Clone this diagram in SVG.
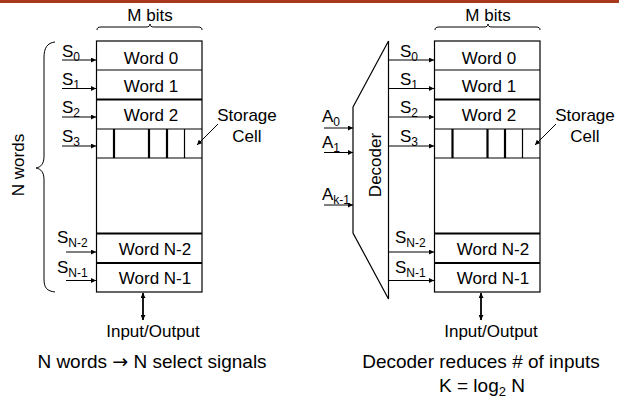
<svg xmlns="http://www.w3.org/2000/svg" width="619" height="398" viewBox="0 0 619 398">
<defs>
<marker id="ah" viewBox="0 0 10 10" refX="10" refY="5" markerWidth="6" markerHeight="5" markerUnits="userSpaceOnUse" orient="auto-start-reverse">
<path d="M0,0 L10,5 L0,10 z" fill="#000"/>
</marker>
<style>
text{font-family:"Liberation Sans",Arial,sans-serif;fill:#000}
.t{font-size:17px}
.w{font-size:17px;text-anchor:middle}
.cap{font-size:19px;text-anchor:middle}
.sym{font-family:"DejaVu Sans",sans-serif}
.box{fill:#fff;stroke:#000;stroke-width:1.2}
.thin{stroke:#000;stroke-width:1.2;fill:none}
.thick{stroke:#000;stroke-width:2.2;fill:none}
.arr{stroke:#000;stroke-width:1;fill:none;marker-end:url(#ah)}
.dbl{stroke:#000;stroke-width:1.8;fill:none;marker-end:url(#ah);marker-start:url(#ah)}
.brace{stroke:#000;stroke-width:1;fill:none}
</style>
</defs>
<rect x="0" y="0" width="619" height="3" fill="#a8391c"/>

<!-- LEFT -->
<g id="left-memory">
<rect class="box" x="96.5" y="41" width="105.5" height="251"/>
<line class="thin" x1="96.5" y1="70" x2="202" y2="70"/>
<line class="thick" x1="96.5" y1="99.5" x2="202" y2="99.5"/>
<line class="thin" x1="96.5" y1="129" x2="202" y2="129"/>
<line class="thin" x1="96.5" y1="158" x2="202" y2="158"/>
<line class="thick" x1="96.5" y1="233.5" x2="202" y2="233.5"/>
<line class="thick" x1="96.5" y1="263" x2="202" y2="263"/>
<line class="thick" x1="114" y1="129" x2="114" y2="158"/>
<line class="thick" x1="149" y1="129" x2="149" y2="158"/>
<line class="thick" x1="167" y1="129" x2="167" y2="158"/>
<line class="thin" x1="184.5" y1="129" x2="184.5" y2="158"/>
<text class="w" x="151" y="64">Word 0</text>
<text class="w" x="151" y="92">Word 1</text>
<text class="w" x="151" y="121">Word 2</text>
<text class="w" x="155" y="255">Word N-2</text>
<text class="w" x="155" y="284">Word N-1</text>
</g>
<g id="left-mbits">
<path class="brace" d="M97,30 C97,28 98,27 101,27 L146,27 C149,27 150,26 150,24 C150,26 151,27 154,27 L198,27 C201,27 202,28 202,30"/>
<text class="w" x="150" y="21">M bits</text>
</g>
<g id="left-nwords">
<path class="brace" d="M55,42 C47,43 44,48 44,58 L44,156 C44,164 41,167 36,168 C41,169 44,172 44,180 L44,279 C44,288 47,291 55,292"/>
<text class="t" transform="translate(24,165) rotate(-90)" text-anchor="middle">N words</text>
</g>
<g id="left-storage">
<text class="w" x="247" y="121">Storage</text>
<text class="w" x="247" y="142">Cell</text>
</g>
<g id="left-io">
<text class="w" x="153" y="337">Input/Output</text>
<text class="cap" x="152" y="368">N words <tspan class="sym">→</tspan> N select signals</text>
</g>
<g id="left-selects">
<text class="t" x="62" y="57">S<tspan font-size="12" dy="4">0</tspan></text>
<text class="t" x="62" y="85">S<tspan font-size="12" dy="4">1</tspan></text>
<text class="t" x="62" y="113">S<tspan font-size="12" dy="4">2</tspan></text>
<text class="t" x="62" y="142">S<tspan font-size="12" dy="4">3</tspan></text>
<text class="t" x="57" y="243">S<tspan font-size="12" dy="4">N-2</tspan></text>
<text class="t" x="57" y="273">S<tspan font-size="12" dy="4">N-1</tspan></text>
</g>

<!-- RIGHT -->
<g id="right-memory">
<rect class="box" x="434.5" y="41" width="105.5" height="251"/>
<line class="thin" x1="434.5" y1="70" x2="540" y2="70"/>
<line class="thick" x1="434.5" y1="99.5" x2="540" y2="99.5"/>
<line class="thin" x1="434.5" y1="129" x2="540" y2="129"/>
<line class="thin" x1="434.5" y1="158" x2="540" y2="158"/>
<line class="thick" x1="434.5" y1="233.5" x2="540" y2="233.5"/>
<line class="thick" x1="434.5" y1="263" x2="540" y2="263"/>
<line class="thick" x1="452.5" y1="129" x2="452.5" y2="158"/>
<line class="thick" x1="487.5" y1="129" x2="487.5" y2="158"/>
<line class="thick" x1="505" y1="129" x2="505" y2="158"/>
<line class="thin" x1="522.5" y1="129" x2="522.5" y2="158"/>
<text class="w" x="489" y="64">Word 0</text>
<text class="w" x="489" y="92">Word 1</text>
<text class="w" x="489" y="121">Word 2</text>
<text class="w" x="493" y="255">Word N-2</text>
<text class="w" x="493" y="284">Word N-1</text>
</g>
<g id="right-mbits">
<path class="brace" d="M435,30 C435,28 436,27 439,27 L484,27 C487,27 488,26 488,24 C488,26 489,27 492,27 L536,27 C539,27 540,28 540,30"/>
<text class="w" x="488" y="21">M bits</text>
</g>
<g id="decoder">
<polygon class="thin" points="353,107 388.5,41 388.5,299 353,233"/>
<text class="t" transform="translate(381,165) rotate(-90)" text-anchor="middle">Decoder</text>
</g>
<g id="right-storage">
<text class="w" x="585" y="121">Storage</text>
<text class="w" x="585" y="142">Cell</text>
</g>
<g id="right-io">
<text class="w" x="491" y="337">Input/Output</text>
<text class="cap" x="481" y="368">Decoder reduces # of inputs</text>
<text class="cap" x="482" y="392">K = log<tspan font-size="13" dy="4">2</tspan><tspan dy="-4"> N</tspan></text>
</g>
<g id="right-selects">
<text class="t" x="400" y="57">S<tspan font-size="12" dy="4">0</tspan></text>
<text class="t" x="400" y="85">S<tspan font-size="12" dy="4">1</tspan></text>
<text class="t" x="400" y="113">S<tspan font-size="12" dy="4">2</tspan></text>
<text class="t" x="400" y="142">S<tspan font-size="12" dy="4">3</tspan></text>
<text class="t" x="395" y="243">S<tspan font-size="12" dy="4">N-2</tspan></text>
<text class="t" x="395" y="273">S<tspan font-size="12" dy="4">N-1</tspan></text>
</g>
<g id="address-inputs">
<text class="t" x="322" y="122">A<tspan font-size="12" dy="4">0</tspan></text>
<text class="t" x="322" y="148">A<tspan font-size="12" dy="4">1</tspan></text>
<text class="t" x="322" y="200">A<tspan font-size="12" dy="4">k-1</tspan></text>
</g>

<g id="connectors">
<line class="arr" x1="62" y1="60" x2="96" y2="60"/>
<line class="arr" x1="62" y1="88.5" x2="96" y2="88.5"/>
<line class="arr" x1="62" y1="117" x2="96" y2="117"/>
<line class="arr" x1="62" y1="146" x2="96" y2="146"/>
<line class="arr" x1="66" y1="252" x2="96" y2="252"/>
<line class="arr" x1="66" y1="280.5" x2="96" y2="280.5"/>
<line class="arr" x1="218" y1="124" x2="197" y2="145"/>
<line class="dbl" x1="143" y1="293" x2="143" y2="320"/>

<line class="arr" x1="388.5" y1="60" x2="434" y2="60"/>
<line class="arr" x1="388.5" y1="88.5" x2="434" y2="88.5"/>
<line class="arr" x1="388.5" y1="117" x2="434" y2="117"/>
<line class="arr" x1="388.5" y1="146" x2="434" y2="146"/>
<line class="arr" x1="388.5" y1="252" x2="434" y2="252"/>
<line class="arr" x1="388.5" y1="280.5" x2="434" y2="280.5"/>
<line class="arr" x1="556" y1="124" x2="535" y2="145"/>
<line class="dbl" x1="481" y1="293" x2="481" y2="320"/>

<line class="arr" x1="324" y1="128" x2="353" y2="128"/>
<line class="arr" x1="324" y1="152.5" x2="353" y2="152.5"/>
<line class="arr" x1="324" y1="205" x2="353" y2="205"/>
</g>
</svg>
